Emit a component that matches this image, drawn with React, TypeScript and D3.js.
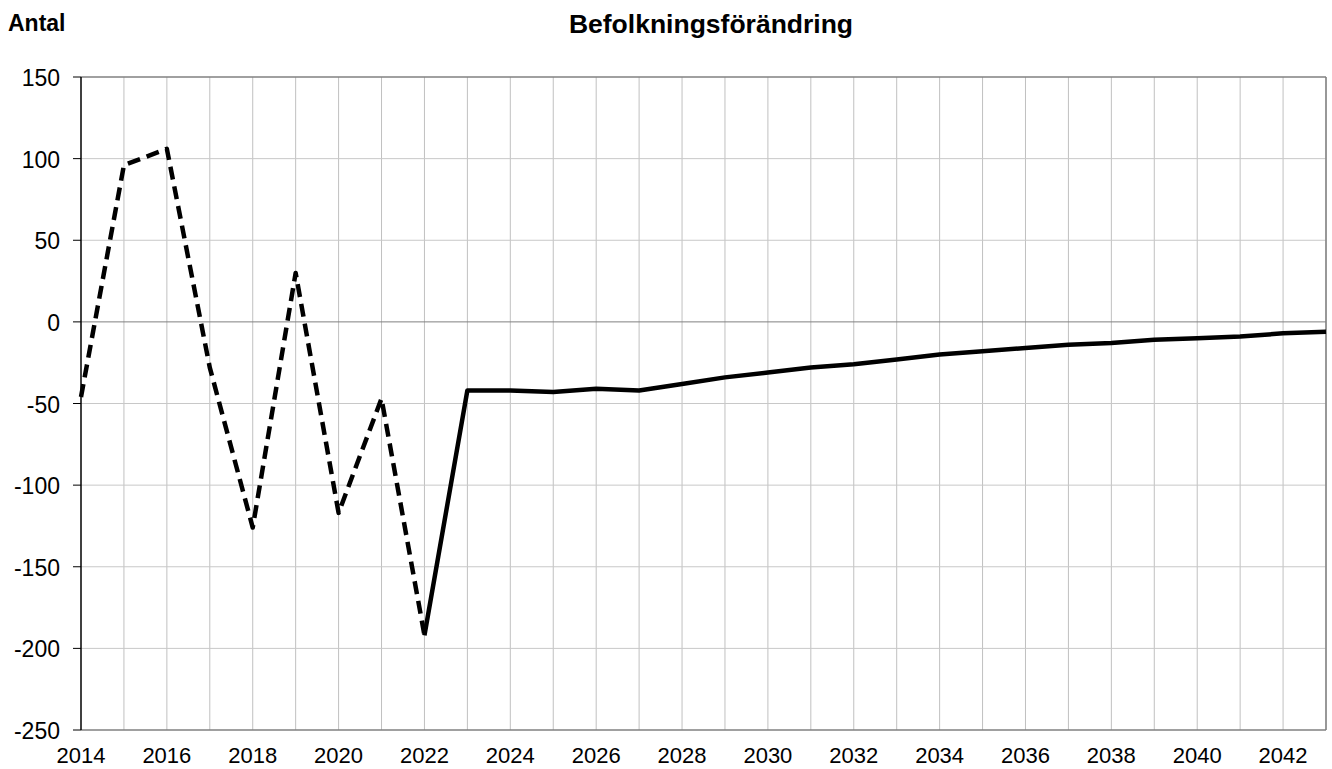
import React from "react";
import * as d3 from "d3";

const years = d3.range(2014, 2044);
// utfall (dashed) 2014-2022, prognos (solid) 2022-2043
const values = [
  -46, 96, 106, -28, -126, 30, -117, -47, -192,
  -42, -42, -43, -41, -42, -38, -34, -31, -28, -26, -23,
  -20, -18, -16, -14, -13, -11, -10, -9, -7, -6,
];
const yTicks = [150, 100, 50, 0, -50, -100, -150, -200, -250];
const xLabelYears = d3.range(2014, 2043, 2);
const lastHistoric = 2022;

const W = 1332;
const H = 769;
const margin = { left: 81, right: 6, top: 77, bottom: 39 };

export default function App() {
  const x = d3
    .scaleLinear()
    .domain([2014, 2043])
    .range([margin.left, W - margin.right]);
  const y = d3
    .scaleLinear()
    .domain([-250, 150])
    .range([H - margin.bottom, margin.top]);

  const pts = years.map((yr, i) => ({ yr, v: values[i] }));
  const line = d3
    .line<{ yr: number; v: number }>()
    .x((d) => x(d.yr))
    .y((d) => y(d.v));

  const dashed = pts.filter((d) => d.yr <= lastHistoric);
  const solid = pts.filter((d) => d.yr >= lastHistoric);

  const font = "'Liberation Sans', Arial, sans-serif";

  return (
    <svg
      width={W}
      height={H}
      style={{ position: "absolute", left: 0, top: 0, background: "#fff" }}
      fontFamily={font}
    >
      <text x={8} y={31} fontSize={23} fontWeight="bold">
        Antal
      </text>
      <text x={711} y={33} fontSize={26.5} fontWeight="bold" textAnchor="middle">
        Befolkningsförändring
      </text>

      {/* vertical grid */}
      {years.slice(1).map((yr) => (
        <line
          key={"vx" + yr}
          x1={x(yr)}
          x2={x(yr)}
          y1={y(150)}
          y2={y(-250)}
          stroke="#c0c0c0"
          strokeWidth={1}
        />
      ))}
      {/* horizontal grid */}
      {yTicks.map((t) => (
        <line
          key={"hy" + t}
          x1={margin.left}
          x2={W - margin.right}
          y1={y(t)}
          y2={y(t)}
          stroke={t === 0 || t === 150 || t === -250 ? "#808080" : "#c8c8c8"}
          strokeWidth={t === 150 || t === -250 ? 1.5 : 1}
        />
      ))}
      <line
        x1={W - margin.right}
        x2={W - margin.right}
        y1={y(150)}
        y2={y(-250)}
        stroke="#808080"
        strokeWidth={1.5}
      />

      {/* y axis */}
      <line
        x1={margin.left}
        x2={margin.left}
        y1={y(150)}
        y2={y(-250)}
        stroke="#000"
        strokeWidth={1.5}
      />
      {yTicks.map((t) => (
        <g key={"yt" + t}>
          <line
            x1={margin.left - 8}
            x2={margin.left}
            y1={y(t)}
            y2={y(t)}
            stroke="#000"
            strokeWidth={1}
          />
          <text x={60} y={y(t) + 9} fontSize={23} textAnchor="end">
            {t}
          </text>
        </g>
      ))}

      {/* x labels */}
      {xLabelYears.map((yr) => (
        <text
          key={"xl" + yr}
          x={x(yr)}
          y={H - margin.bottom + 33}
          fontSize={22}
          textAnchor="middle"
        >
          {yr}
        </text>
      ))}

      <path
        d={line(dashed) || ""}
        fill="none"
        stroke="#000"
        strokeWidth={4.5}
        strokeDasharray="13 7"
        strokeLinejoin="round"
      />
      <path
        d={line(solid) || ""}
        fill="none"
        stroke="#000"
        strokeWidth={4.5}
        strokeLinejoin="round"
      />
    </svg>
  );
}
